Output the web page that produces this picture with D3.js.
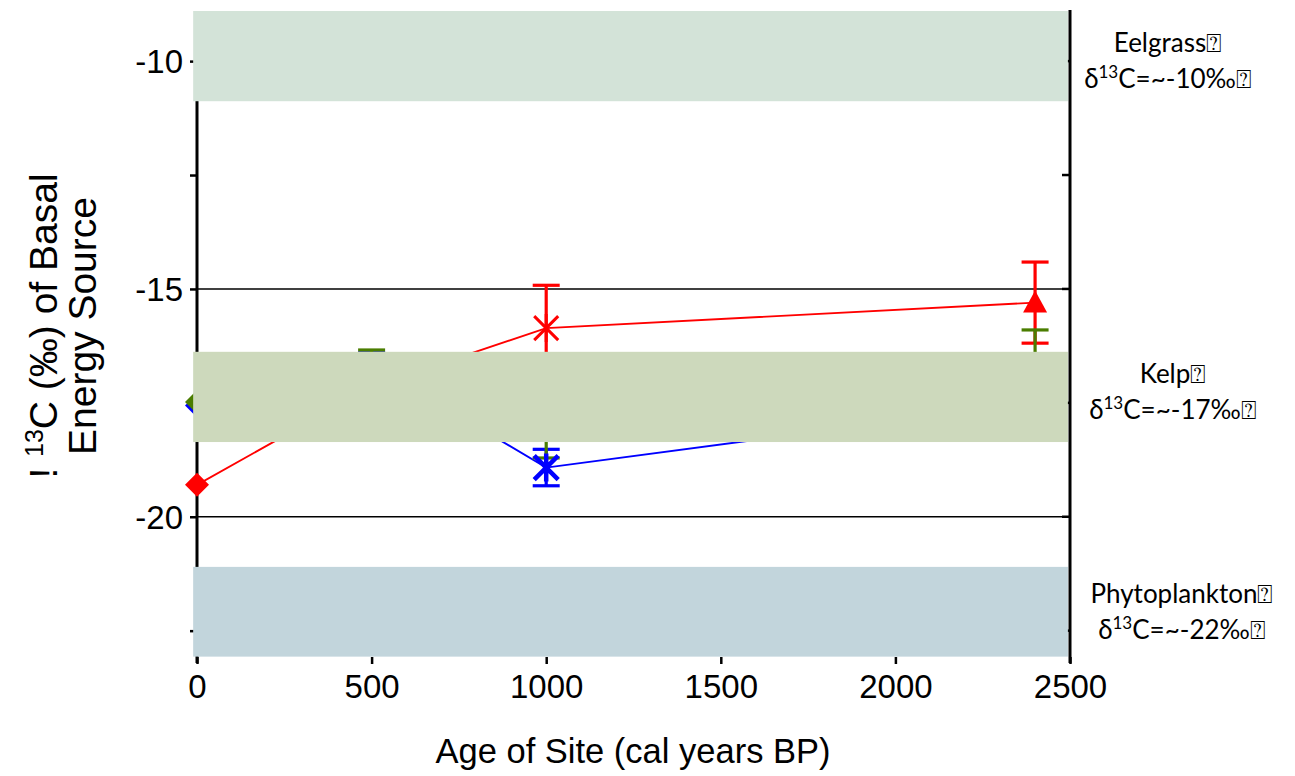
<!DOCTYPE html>
<html>
<head>
<meta charset="utf-8">
<script src="https://cdn.jsdelivr.net/npm/d3@7"></script>
<style>
  html, body { margin: 0; padding: 0; background: #fff; }
  svg { display: block; }
</style>
</head>
<body>
<svg id="chart" width="1295" height="776"></svg>
<script>
// ---- data ----
const ages = [0, 500, 1000, 2400];

// δ13C means and ±1 SD for the three consumer series
const redMeans   = [-19.30, -17.15, -15.86, -15.30];
const redErrors  = [0, 0.50, 0.94, 0.89];
const greenMeans = [-17.48, -16.90, -18.00, -16.60];
const greenErrors = [0, 0.56, 0.71, 0.70];
const blueMeans  = [-17.56, -16.65, -18.92, -17.50];
const blueErrors = [0, 0.25, 0.40, 0.40];

// basal energy sources: name, typical signature and shaded range
const sourceNames = ["Eelgrass", "Kelp", "Phytoplankton"];
const sourceSignatures = ["-10", "-17", "-22"];
const sourceUpper = [-8.90, -16.38, -21.10];
const sourceLower = [-10.88, -18.36, -23.07];

const xTicks = [0, 500, 1000, 1500, 2000, 2500];
const yMajorTicks = [-10, -15, -20];
const yMinorTicks = [-12.5, -17.5, -22.5];

// ---- layout ----
const svg = d3.select("#chart");
const W = 1295, H = 776;
svg.append("rect").attr("width", W).attr("height", H).attr("fill", "#fff");

const x = d3.scaleLinear().domain([0, 2500]).range([197, 1070]);
const y = d3.scaleLinear().domain([-23.1, -8.9]).range([658, 11]);

const axisFont = "'Liberation Sans', Arial, Helvetica, sans-serif";
const noteFont = "Lato, 'Noto Sans', sans-serif";

const colors = { red: "#ff0000", green: "#4a7d00", blue: "#0000ff" };
// marker shape used at each age
const markerShapes = ["diamond", "square", "asterisk", "triangle"];

// plain hyphen for negative tick labels
const fmt = d => (d < 0 ? "-" : "") + Math.abs(d);

// gridlines at major ticks
svg.append("g").selectAll("line").data(yMajorTicks).join("line")
  .attr("x1", x(0)).attr("x2", x(2500))
  .attr("y1", d => y(d)).attr("y2", d => y(d))
  .attr("stroke", "#000").attr("stroke-width", 1.6);

// left axis
const yAxisLeft = d3.axisLeft(y).tickValues(yMajorTicks.concat(yMinorTicks))
  .tickSize(7).tickFormat(d => yMajorTicks.includes(d) ? fmt(d) : "");
const gl = svg.append("g").attr("transform", `translate(${x(0)},0)`).call(yAxisLeft);
gl.select(".domain").remove();
gl.selectAll(".tick line").attr("stroke", "#000").attr("stroke-width", 2.5);
gl.selectAll(".tick text").attr("font-family", axisFont).attr("font-size", 33)
  .attr("fill", "#000").attr("x", -14).attr("dy", "0.35em");
gl.append("line").attr("x1", 0).attr("x2", 0).attr("y1", y(-8.9)).attr("y2", 663)
  .attr("stroke", "#000").attr("stroke-width", 3);

// right axis with inward ticks
const gr = svg.append("g").attr("transform", `translate(${x(2500)},0)`);
gr.selectAll("line.t").data(yMajorTicks.concat(yMinorTicks)).join("line")
  .attr("class", "t").attr("x1", -8).attr("x2", 0)
  .attr("y1", d => y(d)).attr("y2", d => y(d))
  .attr("stroke", "#000").attr("stroke-width", 2.5);
gr.append("line").attr("x1", 0).attr("x2", 0).attr("y1", 10).attr("y2", 663)
  .attr("stroke", "#000").attr("stroke-width", 3);

// bottom axis: ticks and labels only
const xAxis = d3.axisBottom(x).tickValues(xTicks).tickSize(7).tickFormat(fmt);
const gx = svg.append("g").attr("transform", `translate(0,657)`).call(xAxis);
gx.select(".domain").remove();
gx.selectAll(".tick line").attr("stroke", "#000").attr("stroke-width", 2.5);
gx.selectAll(".tick text").attr("font-family", axisFont).attr("font-size", 33)
  .attr("fill", "#000").attr("y", 18).attr("dy", "0.71em");

// axis titles
svg.append("text").attr("x", 633).attr("y", 763).attr("text-anchor", "middle")
  .attr("font-family", axisFont).attr("font-size", 34.5).attr("fill", "#000")
  .text("Age of Site (cal years BP)");

const yt = svg.append("text").attr("transform", "translate(0,326) rotate(-90)")
  .attr("text-anchor", "middle").attr("font-family", axisFont)
  .attr("font-size", 39).attr("fill", "#000");
const l1 = yt.append("tspan").attr("x", 0).attr("y", 57);
l1.append("tspan").text("! ");
l1.append("tspan").attr("font-size", 25).attr("dy", -14).text("13");
l1.append("tspan").attr("dy", 14).text("C (‰) of Basal");
yt.append("tspan").attr("x", 0).attr("y", 96).text("Energy Source");

// ---- series ----
const series = [
  { name: "blue",  means: blueMeans,  errs: blueErrors,  color: colors.blue,  mw: 4.5 },
  { name: "red",   means: redMeans,   errs: redErrors,   color: colors.red,   mw: 3 },
  { name: "green", means: greenMeans, errs: greenErrors, color: colors.green, mw: 3 }
];

const line = d3.line().x((d, i) => x(ages[i])).y(d => y(d));

series.forEach(s => {
  svg.append("path").datum(s.means).attr("d", line)
    .attr("fill", "none").attr("stroke", s.color).attr("stroke-width", 1.8);
});

const capHalf = 13.5;
series.forEach(s => {
  const g = svg.append("g").attr("stroke", s.color).attr("stroke-width", 3.2);
  s.means.forEach((m, i) => {
    const e = s.errs[i];
    if (!e) return;
    const cx = x(ages[i]);
    g.append("line").attr("x1", cx).attr("x2", cx).attr("y1", y(m + e)).attr("y2", y(m - e));
    [m + e, m - e].forEach(v => {
      g.append("line").attr("x1", cx - capHalf).attr("x2", cx + capHalf)
        .attr("y1", y(v)).attr("y2", y(v));
    });
  });
});

function drawMarker(g, shape, cx, cy, color, w) {
  if (shape === "diamond") {
    const r = 12;
    g.append("path").attr("d", `M${cx},${cy - r}L${cx + r},${cy}L${cx},${cy + r}L${cx - r},${cy}Z`)
      .attr("fill", color);
  } else if (shape === "square") {
    const r = 8;
    g.append("rect").attr("x", cx - r).attr("y", cy - r).attr("width", 2 * r).attr("height", 2 * r)
      .attr("fill", color);
  } else if (shape === "asterisk") {
    const r = 12;
    const p = `M${cx - r},${cy - r}L${cx + r},${cy + r}M${cx - r},${cy + r}L${cx + r},${cy - r}M${cx},${cy - r - 2}L${cx},${cy + r + 2}`;
    g.append("path").attr("d", p).attr("stroke", color).attr("stroke-width", w).attr("fill", "none");
  } else if (shape === "triangle") {
    g.append("path").attr("d", `M${cx},${cy - 12}L${cx + 12},${cy + 10}L${cx - 12},${cy + 10}Z`)
      .attr("fill", color);
  }
}

series.forEach(s => {
  const g = svg.append("g");
  s.means.forEach((m, i) => drawMarker(g, markerShapes[i], x(ages[i]), y(m), s.color, s.mw));
});

// ---- source bands (drawn over the plot) ----
const bandColors = ["#d3e3d8", "#cdd9bc", "#c2d5dc"];
const bandX0 = -11, bandX1 = 2494;
svg.append("g").selectAll("rect").data(sourceNames).join("rect")
  .attr("x", x(bandX0)).attr("width", x(bandX1) - x(bandX0))
  .attr("y", (d, i) => y(sourceUpper[i]))
  .attr("height", (d, i) => y(sourceLower[i]) - y(sourceUpper[i]))
  .attr("fill", (d, i) => bandColors[i]);

// source notes at right
const noteX = [1168, 1173, 1182];
const noteDy = [-4, -14, -9];
const notes = svg.append("g").attr("font-family", noteFont).attr("font-size", 26)
  .attr("fill", "#000").attr("text-anchor", "middle");
sourceNames.forEach((name, i) => {
  const mid = y((sourceUpper[i] + sourceLower[i]) / 2) + noteDy[i];
  notes.append("text").attr("x", noteX[i]).attr("y", mid).text(name + "\u2370");
  const t = notes.append("text").attr("x", noteX[i]).attr("y", mid + 36);
  t.append("tspan").text("δ");
  t.append("tspan").attr("font-size", 17).attr("dy", -10).text("13");
  t.append("tspan").attr("dy", 10).text("C=~" + sourceSignatures[i] + "‰\u2370");
});
</script>
</body>
</html>
